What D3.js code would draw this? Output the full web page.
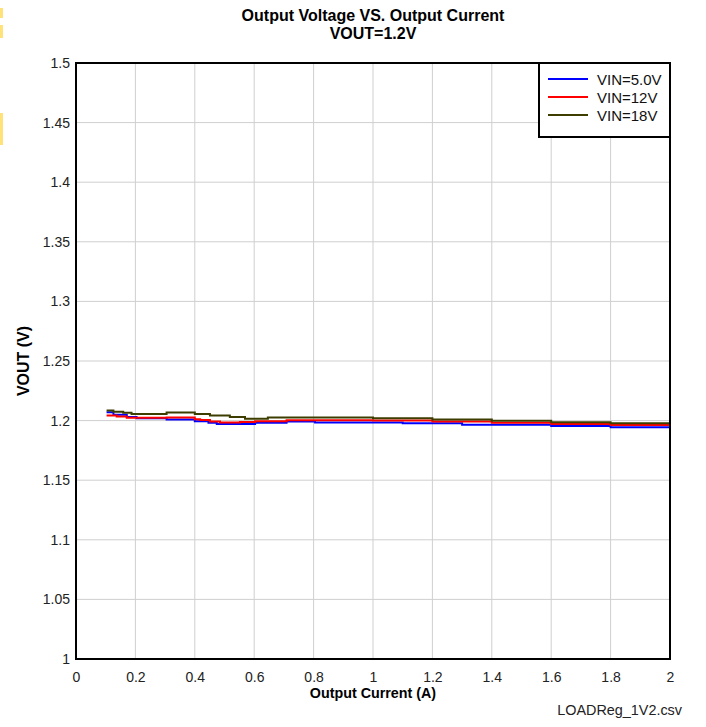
<!DOCTYPE html>
<html><head><meta charset="utf-8">
<script src="https://cdn.jsdelivr.net/npm/d3@7"></script>
<style>body{margin:0;background:#fff;} svg{display:block;font-family:"Liberation Sans",Arial,sans-serif;}</style>
</head><body>
<script>
const xTicks = [0,0.2,0.4,0.6,0.8,1,1.2,1.4,1.6,1.8,2];
const yTicks = [1,1.05,1.1,1.15,1.2,1.25,1.3,1.35,1.4,1.45,1.5];
const seriesNames = ["VIN=5.0V","VIN=12V","VIN=18V"];
const seriesColors = ["#0000ff","#ff0000","#3d3d00"];
const x5 = [0.103,0.126,0.171,0.204,0.305,0.40,0.446,0.474,0.603,0.709,0.805,1.1,1.3,1.6,1.8,2.0];
const y5 = [1.2070,1.2050,1.2031,1.2020,1.2009,1.1995,1.1981,1.1972,1.1983,1.1992,1.1984,1.1978,1.1966,1.1955,1.1944,1.1944];
const x12 = [0.103,0.137,0.171,0.305,0.40,0.418,0.451,0.485,0.552,0.603,0.709,0.906,1.0,1.2,1.4,1.6,1.8,2.0];
const y12 = [1.2042,1.2034,1.2023,1.2025,1.2012,1.2004,1.1992,1.1984,1.1988,1.1994,1.2003,1.2002,1.2000,1.1992,1.1983,1.1972,1.1964,1.1964];
const x18 = [0.103,0.126,0.159,0.187,0.305,0.40,0.451,0.518,0.569,0.646,1.0,1.2,1.4,1.6,1.8,2.0];
const y18 = [1.2085,1.2075,1.2065,1.2056,1.2067,1.2056,1.2042,1.2030,1.2015,1.2025,1.2020,1.2009,1.1998,1.1986,1.1978,1.1978];

const W=706,H=727;
const m={l:76,r:36,t:63,b:68};
const svg=d3.select("body").append("svg").attr("width",W).attr("height",H);
// decorative marks at left edge
[[8,10],[25,13],[113,32]].forEach(([y,h])=>svg.append("rect").attr("x",0).attr("y",y).attr("width",3).attr("height",h).attr("fill","#ffe27a"));

const x=d3.scaleLinear().domain([0,2]).range([m.l,W-m.r]);
const y=d3.scaleLinear().domain([1,1.5]).range([H-m.b,m.t]);

// grid
svg.append("g").selectAll("line").data(xTicks.slice(1,-1)).join("line")
 .attr("x1",d=>x(d)).attr("x2",d=>x(d)).attr("y1",y(1)).attr("y2",y(1.5))
 .attr("stroke","#cfcfcf").attr("stroke-width",1);
svg.append("g").selectAll("line").data(yTicks.slice(1,-1)).join("line")
 .attr("y1",d=>y(d)).attr("y2",d=>y(d)).attr("x1",x(0)).attr("x2",x(2))
 .attr("stroke","#cfcfcf").attr("stroke-width",1);

// series
const series=[[x5,y5],[x12,y12],[x18,y18]];
const line=d3.line().x(d=>x(d[0])).y(d=>y(d[1])).curve(d3.curveStepAfter);
series.forEach(([xs,ys],i)=>{
  svg.append("path").datum(xs.map((v,j)=>[v,ys[j]])).attr("d",line)
   .attr("fill","none").attr("stroke",seriesColors[i]).attr("stroke-width",2);
});

// frame
svg.append("rect").attr("x",x(0)).attr("y",y(1.5)).attr("width",x(2)-x(0)).attr("height",y(1)-y(1.5))
 .attr("fill","none").attr("stroke","#000").attr("stroke-width",2);

// axes
const xa=svg.append("g").attr("transform",`translate(0,${y(1)})`)
 .call(d3.axisBottom(x).tickValues(xTicks).tickSize(0).tickPadding(13).tickFormat(d3.format("")));
const ya=svg.append("g").attr("transform",`translate(${x(0)},0)`)
 .call(d3.axisLeft(y).tickValues(yTicks).tickSize(0).tickPadding(6).tickFormat(d3.format("")));
[xa,ya].forEach(a=>{a.select(".domain").remove();a.selectAll("text").attr("font-size",14).attr("fill","#222").attr("font-family","Liberation Sans, Arial, sans-serif");});

// titles
svg.append("text").attr("x",373).attr("y",21).attr("text-anchor","middle").attr("font-weight","bold").attr("font-size",16).text("Output Voltage VS. Output Current");
svg.append("text").attr("x",373).attr("y",38.5).attr("text-anchor","middle").attr("font-weight","bold").attr("font-size",16).text("VOUT=1.2V");
svg.append("text").attr("x",373).attr("y",698).attr("text-anchor","middle").attr("font-weight","bold").attr("font-size",14.3).text("Output Current (A)");
svg.append("text").attr("transform","translate(29,361) rotate(-90)").attr("text-anchor","middle").attr("font-weight","bold").attr("font-size",16).text("VOUT (V)");
svg.append("text").attr("x",682).attr("y",715).attr("text-anchor","end").attr("font-size",14.4).attr("fill","#222").text("LOADReg_1V2.csv");

// legend
const lg=svg.append("g");
lg.append("rect").attr("x",539).attr("y",63).attr("width",131).attr("height",74).attr("fill","#fff").attr("stroke","#000").attr("stroke-width",2);
seriesNames.forEach((n,i)=>{
  const yy=79+i*18;
  lg.append("line").attr("x1",548).attr("x2",588).attr("y1",yy).attr("y2",yy).attr("stroke",seriesColors[i]).attr("stroke-width",2);
  lg.append("text").attr("x",597).attr("y",yy+5.5).attr("font-size",15).attr("fill","#111").text(n);
});
</script>
</body></html>
